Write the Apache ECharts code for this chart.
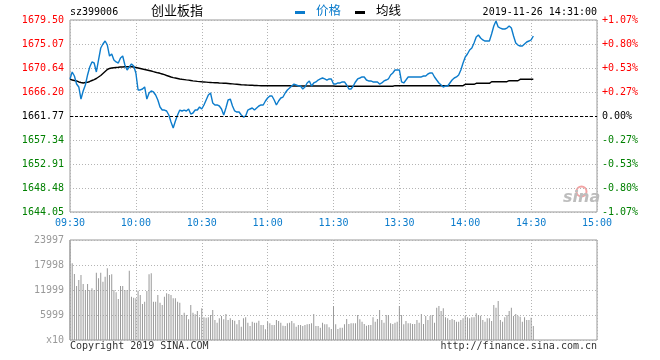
<!DOCTYPE html>
<html><head><meta charset="utf-8">
<script src="https://cdn.jsdelivr.net/npm/echarts@6/dist/echarts.min.js"></script>
<style>html,body{margin:0;padding:0;background:#fff}#c{width:660px;height:360px}</style>
</head><body><div id="c"></div>
<script>
const timeLabels = ['09:30','10:00','10:30','11:00','11:30','13:30','14:00','14:30','15:00'];
const priceTicks = ['1644.05','1648.48','1652.91','1657.34','1661.77','1666.20','1670.64','1675.07','1679.50'];
const pctTicks = ['-1.07%','-0.80%','-0.53%','-0.27%','0.00%','+0.27%','+0.53%','+0.80%','+1.07%'];
const volTicks = ['x10','5999','11999','17998','23997'];
const prevClose = 1661.77;
const priceMin = 1644.05, priceMax = 1679.50;
const volMax = 23997;

const price = [
1668.61,1669.90,1669.16,1667.68,1667.13,1664.91,1666.39,1667.50,1669.35,1670.82,
1671.75,1671.56,1669.90,1672.12,1674.33,1675.07,1675.62,1674.88,1672.85,1673.22,
1672.12,1671.75,1671.56,1672.49,1672.85,1671.19,1670.27,1670.82,1671.38,1671.01,
1669.72,1666.58,1666.58,1666.76,1667.13,1664.91,1666.02,1666.39,1666.21,1665.65,
1664.73,1663.44,1662.88,1662.88,1662.70,1661.96,1660.67,1659.56,1660.85,1661.96,
1662.88,1662.70,1662.88,1662.70,1663.07,1662.14,1662.33,1662.88,1662.88,1663.44,
1663.07,1663.81,1664.73,1665.65,1666.02,1664.18,1663.81,1663.81,1663.62,1663.07,
1661.96,1663.25,1664.73,1664.91,1663.62,1662.70,1662.51,1662.51,1661.96,1661.59,
1661.77,1662.88,1663.07,1663.25,1662.88,1663.25,1663.62,1663.81,1663.81,1664.54,
1665.10,1665.47,1665.47,1664.73,1663.81,1664.54,1665.10,1665.28,1666.02,1666.58,
1666.95,1667.32,1667.68,1667.50,1667.32,1667.32,1666.76,1667.13,1667.87,1668.24,
1667.32,1667.87,1668.06,1668.42,1668.61,1668.79,1668.61,1668.42,1668.61,1668.61,
1667.68,1667.68,1667.87,1667.87,1668.06,1668.06,1667.50,1666.76,1666.76,1667.32,
1668.06,1668.61,1668.79,1668.98,1668.98,1668.42,1668.24,1668.24,1668.06,1668.06,
1668.06,1667.68,1667.87,1668.24,1668.42,1668.61,1669.35,1669.72,1670.27,1670.27,
1670.27,1668.06,1667.87,1668.42,1668.98,1668.98,1668.98,1668.98,1668.98,1668.98,
1668.98,1669.16,1669.16,1669.53,1669.72,1669.72,1668.98,1668.42,1667.87,1667.50,
1667.13,1667.32,1667.32,1667.87,1668.42,1668.79,1668.98,1669.35,1670.27,1671.56,
1672.67,1673.22,1673.96,1674.33,1675.26,1676.36,1676.73,1676.18,1675.81,1675.62,
1675.62,1675.62,1676.92,1678.39,1679.32,1678.21,1678.02,1677.84,1677.84,1678.02,
1678.39,1678.02,1676.55,1675.26,1674.88,1674.70,1674.70,1675.07,1675.44,1675.62,
1675.81,1676.55];

const avgPrice = [
1668.61,1668.42,1668.33,1668.24,1668.06,1667.96,1667.87,1667.96,1668.00,1668.15,
1668.33,1668.51,1668.70,1668.98,1669.25,1669.62,1669.99,1670.36,1670.55,1670.64,
1670.69,1670.73,1670.77,1670.82,1670.82,1670.86,1670.88,1670.88,1670.88,1670.82,
1670.73,1670.64,1670.55,1670.45,1670.36,1670.27,1670.18,1670.09,1669.96,1669.85,
1669.75,1669.66,1669.53,1669.40,1669.25,1669.12,1668.98,1668.87,1668.79,1668.70,
1668.61,1668.55,1668.50,1668.44,1668.39,1668.33,1668.27,1668.22,1668.16,1668.13,
1668.09,1668.06,1668.02,1667.98,1667.96,1667.94,1667.92,1667.91,1667.87,1667.85,
1667.83,1667.81,1667.78,1667.74,1667.70,1667.66,1667.63,1667.59,1667.55,1667.52,
1667.50,1667.48,1667.46,1667.44,1667.42,1667.41,1667.39,1667.37,1667.35,1667.35,
1667.35,1667.35,1667.35,1667.35,1667.35,1667.35,1667.35,1667.35,1667.35,1667.35,
1667.35,1667.32,1667.32,1667.32,1667.32,1667.32,1667.32,1667.32,1667.32,1667.32,
1667.32,1667.32,1667.32,1667.32,1667.32,1667.32,1667.32,1667.32,1667.32,1667.32,
1667.32,1667.26,1667.26,1667.26,1667.26,1667.26,1667.26,1667.26,1667.26,1667.26,
1667.26,1667.26,1667.26,1667.26,1667.26,1667.26,1667.26,1667.26,1667.26,1667.26,
1667.26,1667.26,1667.26,1667.26,1667.26,1667.26,1667.26,1667.26,1667.37,1667.37,
1667.37,1667.37,1667.37,1667.37,1667.37,1667.37,1667.37,1667.37,1667.37,1667.37,
1667.37,1667.37,1667.37,1667.37,1667.37,1667.37,1667.37,1667.37,1667.37,1667.37,
1667.37,1667.37,1667.37,1667.37,1667.37,1667.37,1667.37,1667.37,1667.37,1667.37,
1667.63,1667.63,1667.63,1667.63,1667.63,1667.81,1667.81,1667.81,1667.81,1667.81,
1667.81,1667.81,1668.11,1668.11,1668.11,1668.11,1668.11,1668.11,1668.11,1668.11,
1668.29,1668.29,1668.29,1668.29,1668.29,1668.55,1668.55,1668.55,1668.55,1668.55,
1668.55,1668.55];

const volume = [
23997,18400,15840,12960,14400,15600,13440,12000,13440,12000,
12400,12000,16160,14800,16160,14000,15200,17200,15600,15760,
12000,11440,9840,12960,12960,12000,12000,16640,10400,10160,
10000,11840,10800,8640,9200,11760,15760,16000,9200,9200,
10800,8960,8400,10400,11200,11040,10800,10000,10000,9200,
8960,6000,6560,6000,4960,8400,6560,6160,6960,5440,
7600,5440,5360,5440,6000,7200,4800,4160,5200,5760,
4960,6240,4800,5200,4800,4640,3760,4800,3200,5200,
5440,4160,3360,4400,4160,4160,4640,3600,3600,2560,
4400,4000,3600,3600,4800,4560,4160,3440,3360,4000,
4160,4560,4000,3200,3600,3600,3360,3600,3760,3840,
4000,6240,3360,3360,2960,4160,3760,3760,3040,2640,
8160,3760,2640,2960,2960,3760,5040,3840,4000,4000,
4000,6000,4960,4400,3840,3440,3600,3600,5440,4400,
5040,7200,4800,4160,6000,6000,4000,3840,4160,4400,
8160,6000,3760,4560,4000,4000,3840,3840,4800,4160,
6240,3840,5760,4800,5760,6000,4160,7760,8160,6960,
7600,5440,5200,4800,5040,4800,4400,4400,4800,5200,
5760,5440,5200,5440,5440,6400,6000,5840,4800,4400,
5200,5200,4560,8400,7760,9360,4800,4400,5440,6000,
6960,7760,5760,6240,5840,5600,4400,5440,4800,4800,
5360,3360];

const MONO = 'DejaVu Sans Mono';
const CJK = 'Noto Sans CJK SC';
const BLUE = '#0c7ccc';
const RED = '#ff0000';
const GREEN = '#008000';
const GRIDC = '#b4b4b4';

const chart = echarts.init(document.getElementById('c'), null, {renderer: 'canvas'});
const pInterval = (priceMax - priceMin) / 8;
const vInterval = volMax / 4;
function pColor(v, idx) { return idx > 4 ? RED : (idx === 4 ? '#000' : GREEN); }

const xBase = {
  type: 'value', min: 0, max: 240, interval: 30,
  axisLine: {show: false}, axisTick: {show: false},
  splitLine: {show: true, lineStyle: {color: GRIDC, type: [1, 2], width: 1}}
};

chart.setOption({
  animation: false,
  grid: [
    {left: 70, top: 20, width: 527, height: 192, show: true, borderColor: '#999', borderWidth: 1},
    {left: 70, top: 240, width: 527, height: 100, show: true, borderColor: '#999', borderWidth: 1}
  ],
  xAxis: [
    Object.assign({}, xBase, {gridIndex: 0,
      axisLabel: {show: true, color: BLUE, fontFamily: MONO, fontSize: 10, margin: 6,
        formatter: (v, i) => timeLabels[Math.round(v / 30)]}}),
    Object.assign({}, xBase, {gridIndex: 1, axisLabel: {show: false}})
  ],
  yAxis: [
    {type: 'value', gridIndex: 0, min: priceMin, max: priceMax, interval: pInterval, position: 'left',
      axisLine: {show: false}, axisTick: {show: false},
      splitLine: {show: true, lineStyle: {color: GRIDC, type: [1, 2]}},
      axisLabel: {fontFamily: MONO, fontSize: 10, margin: 6, color: pColor,
        formatter: (v, i) => priceTicks[Math.round((v - priceMin) / pInterval)]}},
    {type: 'value', gridIndex: 0, min: priceMin, max: priceMax, interval: pInterval, position: 'right',
      axisLine: {show: false}, axisTick: {show: false}, splitLine: {show: false},
      axisLabel: {fontFamily: MONO, fontSize: 10, margin: 5, color: pColor,
        formatter: (v, i) => pctTicks[Math.round((v - priceMin) / pInterval)]}},
    {type: 'value', gridIndex: 1, min: 0, max: volMax, interval: vInterval,
      axisLine: {show: false}, axisTick: {show: false},
      splitLine: {show: true, lineStyle: {color: GRIDC, type: [1, 2]}},
      axisLabel: {fontFamily: MONO, fontSize: 10, margin: 6, color: '#999',
        formatter: (v, i) => volTicks[Math.round(v / vInterval)]}}
  ],
  series: [
    {type: 'line', xAxisIndex: 0, yAxisIndex: 0, data: avgPrice.map((v, i) => [i, v]),
      showSymbol: false, symbol: 'none', lineStyle: {color: '#000', width: 1.4}, z: 3},
    {type: 'line', xAxisIndex: 0, yAxisIndex: 0, data: price.map((v, i) => [i, v]),
      showSymbol: false, symbol: 'none', lineStyle: {color: BLUE, width: 1.4}, z: 4,
      markLine: {silent: true, symbol: 'none', label: {show: false},
        lineStyle: {color: '#000', type: [3, 2], width: 1}, data: [{yAxis: prevClose}]}},
    {type: 'bar', xAxisIndex: 1, yAxisIndex: 2, data: volume.map((v, i) => [i, v]),
      barWidth: 1, itemStyle: {color: '#999'}, z: 3}
  ],
  graphic: [
    {type: 'text', left: 70, top: 7, style: {text: 'sz399006', font: '10px "' + MONO + '"', fill: '#000'}},
    {type: 'text', left: 151, top: 4, style: {text: '创业板指', font: '13px "' + CJK + '"', fill: '#000'}},
    {type: 'rect', left: 295, top: 11, shape: {width: 10, height: 3}, style: {fill: BLUE}},
    {type: 'text', left: 316, top: 4, style: {text: '价格', font: '12.5px "' + CJK + '"', fill: BLUE}},
    {type: 'rect', left: 355, top: 11, shape: {width: 10, height: 3}, style: {fill: '#000'}},
    {type: 'text', left: 376, top: 4, style: {text: '均线', font: '12.5px "' + CJK + '"', fill: '#000'}},
    {type: 'text', right: 63, top: 7, style: {text: '2019-11-26 14:31:00', font: '10px "' + MONO + '"', fill: '#000'}},
    {type: 'text', left: 70, top: 341, style: {text: 'Copyright 2019 SINA.COM', font: '10px "' + MONO + '"', fill: '#333'}},
    {type: 'text', right: 63, top: 341, style: {text: 'http://finance.sina.com.cn', font: '10px "' + MONO + '"', fill: '#333'}},
    {type: 'circle', left: 574, top: 184, shape: {r: 5}, style: {fill: 'none', stroke: '#f3a3a3', lineWidth: 2}},
    {type: 'text', left: 563, top: 190, style: {text: 'sina', font: 'italic bold 16px "DejaVu Sans"', fill: '#bdbdbd'}}
  ]
});
</script>
</body></html>
